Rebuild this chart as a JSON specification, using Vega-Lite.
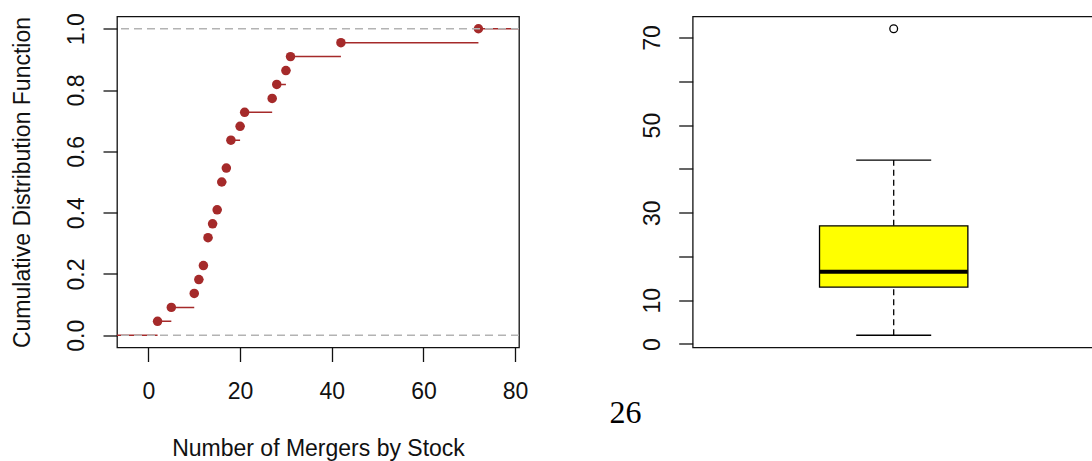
{
  "$schema": "https://vega.github.io/schema/vega-lite/v6.json",
  "background": "white",
  "padding": {"left": 11, "top": 11.5, "right": 0, "bottom": 0},
  "spacing": 78.7,
  "datasets": {
    "steps": [
      {"x": -10, "xend": 2, "F": 0},
      {"x": 2, "xend": 5, "F": 0.0455},
      {"x": 5, "xend": 10, "F": 0.0909},
      {"x": 10, "xend": 11, "F": 0.1364},
      {"x": 11, "xend": 12, "F": 0.1818},
      {"x": 12, "xend": 13, "F": 0.2273},
      {"x": 13, "xend": 14, "F": 0.3182},
      {"x": 14, "xend": 15, "F": 0.3636},
      {"x": 15, "xend": 16, "F": 0.4091},
      {"x": 16, "xend": 17, "F": 0.5},
      {"x": 17, "xend": 18, "F": 0.5455},
      {"x": 18, "xend": 20, "F": 0.6364},
      {"x": 20, "xend": 21, "F": 0.6818},
      {"x": 21, "xend": 27, "F": 0.7273},
      {"x": 27, "xend": 28, "F": 0.7727},
      {"x": 28, "xend": 30, "F": 0.8182},
      {"x": 30, "xend": 31, "F": 0.8636},
      {"x": 31, "xend": 42, "F": 0.9091},
      {"x": 42, "xend": 72, "F": 0.9545},
      {"x": 72, "xend": 90, "F": 1}
    ],
    "ref": [{"h": 0}, {"h": 1}],
    "box": [{"grp": "Mergers", "lo": 2, "q1": 13, "med": 16.5, "q3": 27, "hi": 42}],
    "out": [{"grp": "Mergers", "val": 72}]
  },
  "config": {
    "font": "Liberation Sans",
    "view": {"stroke": "#111111", "strokeWidth": 1.3},
    "axis": {
      "domain": false, "grid": false, "ticks": true,
      "tickColor": "#111111", "tickSize": 14, "tickWidth": 1.3,
      "labelFont": "Liberation Sans", "labelFontSize": 23, "labelColor": "#111111",
      "titleFont": "Liberation Sans", "titleFontSize": 23, "titleFontWeight": "normal", "titleColor": "#111111",
      "labelOverlap": false
    }
  },
  "hconcat": [
    {
      "width": 402,
      "height": 331,
      "layer": [
        {
          "data": {"name": "steps"},
          "mark": {"type": "rule", "color": "#A52A2A", "strokeWidth": 1.5, "clip": true},
          "encoding": {
            "x": {
              "field": "x", "type": "quantitative",
              "scale": {"domain": [-6.85, 80.85], "nice": false, "zero": false},
              "axis": {
                "values": [0, 20, 40, 60, 80],
                "title": "Number of Mergers by Stock",
                "labelBaseline": "alphabetic", "labelPadding": 36.5, "labelFlush": false,
                "titleBaseline": "alphabetic", "titleY": 107.5
              }
            },
            "x2": {"field": "xend"},
            "y": {
              "field": "F", "type": "quantitative",
              "scale": {"domain": [-0.04, 1.04], "nice": false, "zero": false},
              "axis": {
                "values": [0, 0.2, 0.4, 0.6, 0.8, 1],
                "format": ".1f",
                "labelAngle": -90, "labelAlign": "center", "labelBaseline": "alphabetic", "labelPadding": 20,
                "title": "Cumulative Distribution Function",
                "titleAngle": -90, "titleAlign": "center", "titleBaseline": "alphabetic",
                "titleX": -87.2, "titleY": 165.5
              }
            }
          }
        },
        {
          "data": {"name": "steps"},
          "transform": [{"filter": "datum.x > 0"}],
          "mark": {"type": "point", "shape": "circle", "filled": true, "size": 90, "color": "#A52A2A", "opacity": 1},
          "encoding": {
            "x": {"field": "x", "type": "quantitative"},
            "y": {"field": "F", "type": "quantitative"}
          }
        },
        {
          "data": {"name": "ref"},
          "mark": {"type": "rule", "color": "#B3B3B3", "strokeDash": [8, 5], "strokeWidth": 1.3},
          "encoding": {
            "y": {"field": "h", "type": "quantitative"}
          }
        }
      ]
    },
    {
      "width": 402,
      "height": 331,
      "layer": [
        {
          "data": {"name": "box"},
          "mark": {"type": "rule", "color": "black", "strokeWidth": 1.3, "strokeDash": [6, 4]},
          "encoding": {
            "x": {
              "field": "grp", "type": "nominal",
              "scale": {"type": "band", "paddingInner": 0, "paddingOuter": 0.855},
              "axis": {
                "labels": false, "ticks": false, "domain": false,
                "title": "26", "titleFont": "Liberation Serif", "titleFontSize": 32,
                "titleColor": "#000000", "titleBaseline": "alphabetic", "titleAlign": "center",
                "titleX": -67.7, "titleY": 75
              }
            },
            "y": {
              "field": "lo", "type": "quantitative",
              "scale": {"domain": [-0.8, 74.8], "nice": false, "zero": false},
              "axis": {
                "values": [0, 10, 20, 30, 40, 50, 60, 70],
                "labelExpr": "indexof([20, 40, 60], datum.value) >= 0 ? '' : datum.label",
                "labelAngle": -90, "labelAlign": "center", "labelBaseline": "alphabetic", "labelPadding": 19.5,
                "title": null
              }
            },
            "y2": {"field": "q1"}
          }
        },
        {
          "data": {"name": "box"},
          "mark": {"type": "rule", "color": "black", "strokeWidth": 1.3, "strokeDash": [6, 4]},
          "encoding": {
            "x": {"field": "grp", "type": "nominal"},
            "y": {"field": "q3", "type": "quantitative"},
            "y2": {"field": "hi"}
          }
        },
        {
          "data": {"name": "box"},
          "mark": {"type": "tick", "orient": "horizontal", "size": 75, "thickness": 1.3, "color": "black", "opacity": 1},
          "encoding": {
            "x": {"field": "grp", "type": "nominal"},
            "y": {"field": "lo", "type": "quantitative"}
          }
        },
        {
          "data": {"name": "box"},
          "mark": {"type": "tick", "orient": "horizontal", "size": 75, "thickness": 1.3, "color": "black", "opacity": 1},
          "encoding": {
            "x": {"field": "grp", "type": "nominal"},
            "y": {"field": "hi", "type": "quantitative"}
          }
        },
        {
          "data": {"name": "box"},
          "mark": {"type": "bar", "fill": "#FFFF00", "stroke": "black", "strokeWidth": 1.3, "opacity": 1},
          "encoding": {
            "x": {"field": "grp", "type": "nominal"},
            "y": {"field": "q1", "type": "quantitative"},
            "y2": {"field": "q3"}
          }
        },
        {
          "data": {"name": "box"},
          "mark": {"type": "tick", "orient": "horizontal", "size": 148, "thickness": 4, "color": "black", "opacity": 1},
          "encoding": {
            "x": {"field": "grp", "type": "nominal"},
            "y": {"field": "med", "type": "quantitative"}
          }
        },
        {
          "data": {"name": "out"},
          "mark": {"type": "point", "shape": "circle", "filled": false, "size": 60, "stroke": "black", "strokeWidth": 1.3, "opacity": 1},
          "encoding": {
            "x": {"field": "grp", "type": "nominal"},
            "y": {"field": "val", "type": "quantitative"}
          }
        }
      ]
    }
  ]
}
